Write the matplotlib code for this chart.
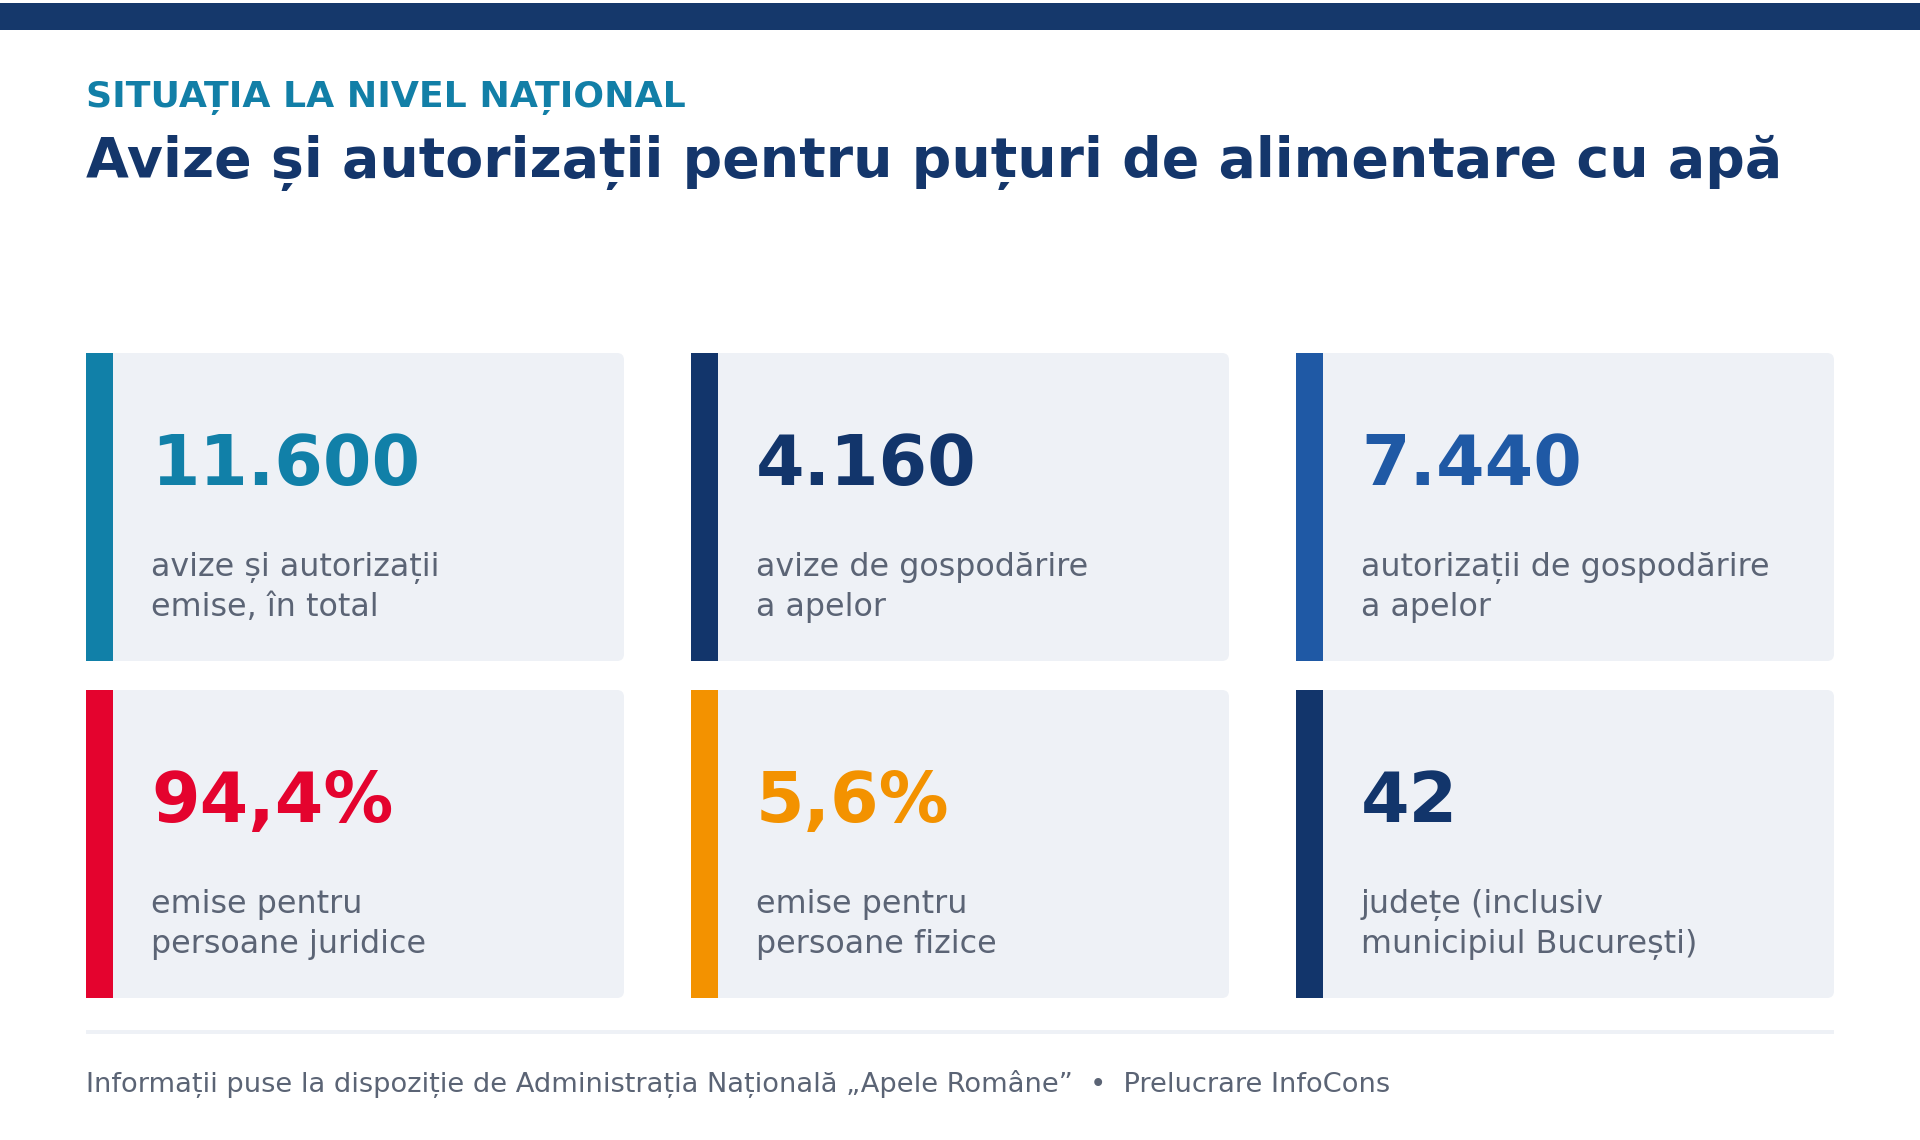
import matplotlib
matplotlib.use('Agg')
import matplotlib.pyplot as plt
from matplotlib.patches import Rectangle, FancyBboxPatch

# chart content
kicker = 'SITUAȚIA LA NIVEL NAȚIONAL'
title = 'Avize și autorizații pentru puțuri de alimentare cu apă'
values = ['11.600', '4.160', '7.440', '94,4%', '5,6%', '42']
labels = [
    'avize și autorizații\nemise, în total',
    'avize de gospodărire\na apelor',
    'autorizații de gospodărire\na apelor',
    'emise pentru\npersoane juridice',
    'emise pentru\npersoane fizice',
    'județe (inclusiv\nmunicipiul București)',
]
accents = ['#1180a8', '#12356b', '#1f59a5', '#e4032e', '#f39200', '#12356b']
source = 'Informații puse la dispoziție de Administrația Națională „Apele Române”  •  Prelucrare InfoCons'

navy = '#14366b'
teal = '#127fa7'
card_bg = '#eef1f6'
grey = '#5b6475'

W, H = 1920, 1140
fig = plt.figure(figsize=(W / 100, H / 100), dpi=100)
fig.patch.set_facecolor('white')
ax = fig.add_axes([0, 0, 1, 1])
ax.set_xlim(0, W)
ax.set_ylim(H, 0)
ax.axis('off')

# top band
ax.add_patch(Rectangle((0, 3), W, 27, color='#15386b', lw=0))

ax.text(86, 107, kicker, color=teal, fontsize=26.1, fontweight='bold', va='baseline')
ax.text(86, 177, title, color=navy, fontsize=39.9, fontweight='bold', va='baseline')

# cards
card_w, card_h = 538, 308
col_x = [86, 691, 1296]
row_y = [353, 690]
bar_w = 27

for i, (val, lab, col) in enumerate(zip(values, labels, accents)):
    x0 = col_x[i % 3]
    y0 = row_y[i // 3]
    ax.add_patch(FancyBboxPatch((x0, y0), card_w, card_h,
                                boxstyle='round,pad=0,rounding_size=7',
                                fc=card_bg, ec='none'))
    ax.add_patch(Rectangle((x0, y0), bar_w, card_h, color=col, lw=0))
    ax.text(x0 + 65, y0 + 132, val, color=col, fontsize=50.2, fontweight='bold', va='baseline')
    for k, line in enumerate(lab.split('\n')):
        ax.text(x0 + 65, y0 + 223 + 40 * k, line, color=grey, fontsize=22.9, va='baseline')

# footer
ax.add_patch(Rectangle((86, 1030), 1834 - 86, 4, color=card_bg, lw=0))
ax.text(86, 1092, source, color=grey, fontsize=19.6, va='baseline')

fig.savefig('out.png', dpi=100, facecolor='white')
